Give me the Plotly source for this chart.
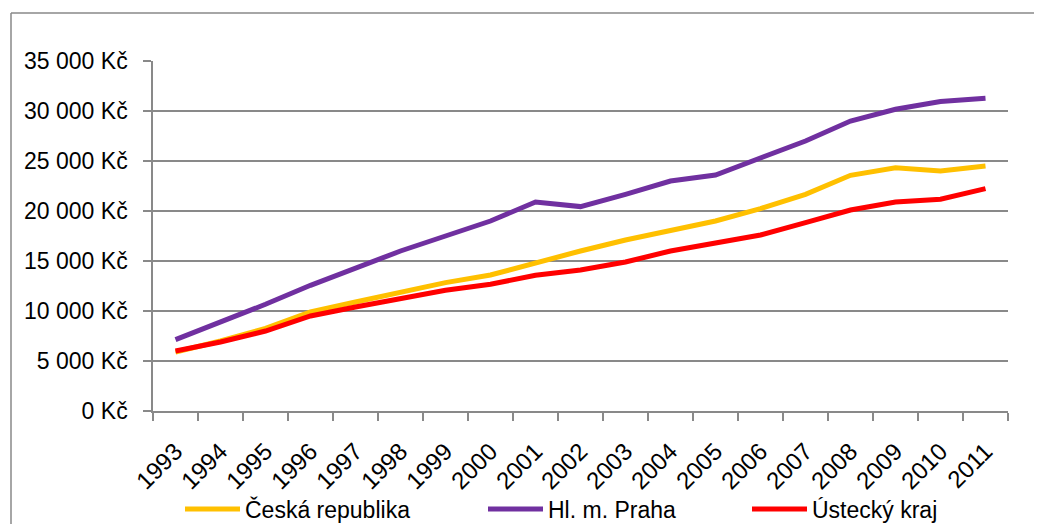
import plotly.graph_objects as go

years = [str(y) for y in range(1993, 2012)]
ceska_republika = [5900, 7000, 8270, 9900, 10900, 11840, 12840, 13600, 14840, 16000,
                   17100, 18070, 19000, 20240, 21670, 23570, 24330, 24000, 24500]
praha = [7140, 8840, 10670, 12570, 14240, 16000, 17500, 19000, 20900, 20440,
         21670, 23000, 23600, 25240, 27000, 29000, 30170, 30940, 31270]
ustecky = [6000, 6900, 8000, 9500, 10400, 11240, 12070, 12670, 13570, 14100,
           14900, 16000, 16740, 17600, 18830, 20100, 20900, 21170, 22240]
series_names = ["Česká republika", "Hl. m. Praha", "Ústecký kraj"]
series_colors = ["#FFC000", "#7030A0", "#FF0000"]
y_ticks = [0, 5000, 10000, 15000, 20000, 25000, 30000, 35000]
y_tick_labels = ["0 Kč", "5 000 Kč", "10 000 Kč", "15 000 Kč", "20 000 Kč",
                 "25 000 Kč", "30 000 Kč", "35 000 Kč"]

FONT = "Liberation Sans"
GRID = "#898989"
FS = 23

# page body has an 8px margin; figure coordinates are window minus 8
W, H = 1034, 516
L, R, T, B = 145, 34, 53, 113
pw, ph = W - L - R, H - T - B

def px_x(x):
    return (x - L) / pw

def px_y(y):
    return (H - B - y) / ph

legend_ids = ["legend", "legend2", "legend3"]
legend_x = [172, 475, 739]

fig = go.Figure()
for name, vals, col, lid in zip(series_names, [ceska_republika, praha, ustecky],
                                series_colors, legend_ids):
    fig.add_trace(go.Scatter(x=years, y=vals, mode="lines", name=name,
                             line=dict(color=col, width=5), legend=lid))

legend_common = dict(orientation="h", xanchor="left", y=px_y(501), yanchor="middle",
                     font=dict(family=FONT, size=FS, color="black"),
                     itemwidth=55, bgcolor="rgba(0,0,0,0)")

fig.update_layout(
    width=W, height=H,
    margin=dict(l=L, r=R, t=T, b=B, autoexpand=False),
    paper_bgcolor="white", plot_bgcolor="white",
    font=dict(family=FONT, size=FS, color="black"),
    showlegend=True,
    legend=dict(x=px_x(legend_x[0]), **legend_common),
    legend2=dict(x=px_x(legend_x[1]), **legend_common),
    legend3=dict(x=px_x(legend_x[2]), **legend_common),
    xaxis=dict(type="category", tickangle=-45, showgrid=False,
               showline=True, linecolor=GRID, linewidth=1.5,
               ticks="outside", tickson="boundaries", ticklen=8,
               tickcolor=GRID, tickwidth=1.5, ticklabelstandoff=15,
               tickfont=dict(family=FONT, size=24, color="black"),
               range=[-0.5, len(years) - 0.5]),
    yaxis=dict(range=[0, 35000], tickvals=y_ticks, ticktext=y_tick_labels,
               showgrid=True, gridcolor=GRID, gridwidth=1.5,
               showline=True, linecolor=GRID, linewidth=1.5,
               ticks="outside", ticklen=8, tickcolor=GRID, tickwidth=1.5,
               ticklabelstandoff=11, zeroline=False,
               tickfont=dict(family=FONT, size=FS, color="black")),
    shapes=[
        dict(type="line", xref="paper", yref="paper",
             x0=px_x(3), x1=px_x(3), y0=px_y(5), y1=px_y(H + 10),
             line=dict(color=GRID, width=1.5)),
        dict(type="line", xref="paper", yref="paper",
             x0=px_x(3), x1=px_x(W + 10), y0=px_y(5), y1=px_y(5),
             line=dict(color=GRID, width=1.5)),
    ],
)

fig.write_html("out.html")
